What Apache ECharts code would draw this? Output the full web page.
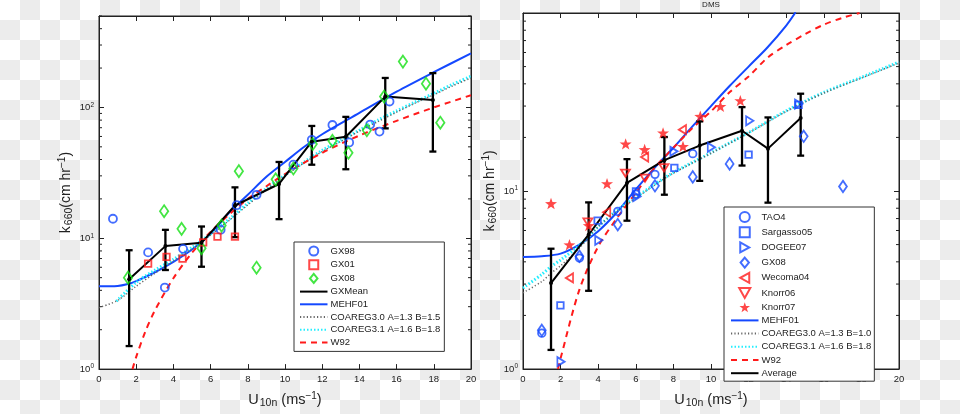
<!DOCTYPE html>
<html><head><meta charset="utf-8">
<script src="https://cdn.jsdelivr.net/npm/echarts@6/dist/echarts.min.js"></script>
<style>
html,body{margin:0;padding:0;width:960px;height:414px;overflow:hidden;
background: repeating-conic-gradient(#ececec 0% 25%, #ffffff 0% 50%) 0 0/40px 40px;}
#c{width:960px;height:414px;}
</style></head><body><div id="c"></div>
<script>
// ---------- Left panel (CO2 / GasEx) ----------
const gx98 = [[0.75,14.1],[2.64,7.8],[3.54,4.2],[4.52,8.3],[6.54,11.6],[7.4,17.9],[8.47,21.5],[10.45,36.5],[11.44,56.6],[12.55,73.4],[13.45,54],[14.58,74],[15.08,65.4],[15.62,111]];
const gx01 = [[2.64,6.4],[3.63,7.2],[4.49,7.0],[5.6,9.3],[6.37,10.3],[7.31,10.3]];
const gx08L = [[1.56,5.0],[3.5,16.1],[4.44,11.8],[5.51,8.4],[6.59,12.5],[7.52,32.6],[8.47,5.96],[9.5,28.2],[10.45,34.1],[11.49,52.5],[12.55,55.6],[13.41,45],[14.4,66.9],[15.33,121],[16.34,224],[17.58,152],[18.35,76.4]];
const gxMeanU = [1.62,3.57,5.51,7.31,9.68,11.44,13.27,15.39,17.95];
const gxMean = [4.87,8.71,9.23,17.8,26,54.7,59.7,121,114];
const gxLow = [1.5,5.72,6.06,10.2,14.0,36.5,33.7,69.2,46];
const gxHigh = [8.1,11.6,12.3,24.5,38.3,72.2,84.7,168,183];
const mehfL = [[0,4.29],[1,4.32],[1.5,4.45],[2,4.7],[3,5.5],[4,6.6],[5,8.2],[6,10.8],[7,15.7],[8,21.5],[9,29.5],[10,38.3],[11,49.6],[12,62.4],[14,90.8],[16,132],[18,186],[20,259]];
const coare30L = [[0,2.95],[1,3.35],[2,4.3],[3,5.4],[4,6.7],[5,8.3],[6,10.6],[7,13.7],[8,18],[9,23.5],[10,30],[11,37.5],[12,46],[13,55],[14,66],[15,78],[16,92],[17,108],[18,125],[19,146],[20,168]];
const coare31L = [[0.94,3.3],[2,4.6],[3,5.7],[4,6.9],[5,8.5],[6,10.8],[7,14],[8,18.5],[9,24],[10,30.5],[11,38],[12,47],[13,56],[14,67],[15,80],[16,94],[17,110],[18,128],[19,150],[20,173]];
const w92L = [[1.8,1.0],[2,1.24],[2.5,1.95],[3,2.8],[4,4.95],[5,7.75],[6,11.2],[7,15.2],[8,20],[9,25],[10,31],[12,45],[14,61],[16,79],[18,100],[20,124]];

// ---------- Right panel (DMS) ----------
const tao4 = [[1.0,1.59],[3.0,4.2],[5.04,7.68],[6.0,9.6],[7.02,12.4],[9.03,16.2]];
const sargasso05 = [[1.99,2.28],[3.97,6.81],[6.01,9.95],[8.05,13.5],[12.0,16.0],[14.66,30.5]];
const dogee07 = [[2.02,1.1],[4.03,5.28],[6.06,9.3],[8.03,16.7],[10.02,17.6],[12.06,24.8],[14.66,30.8]];
const gx08R = [[1.0,1.65],[3.0,4.3],[5.04,6.47],[7.02,10.7],[9.03,12.0],[10.99,14.2],[14.93,20.3],[17.02,10.6]];
const wecoma04 = [[2.47,3.25],[4.45,7.6],[6.47,15.5],[8.48,22.1]];
const knorr06 = [[3.45,6.7],[5.45,12.6],[6.49,11.8],[7.5,13.5]];
const knorr07 = [[1.49,8.5],[2.47,4.99],[3.5,6.4],[4.47,11.0],[5.46,18.4],[6.47,17.1],[7.45,21.2],[8.51,17.8],[9.43,26.3],[10.5,29.9],[11.56,32.2]];
const avgU = [1.49,3.49,5.53,7.52,9.4,11.65,13.03,14.77];
const avgK = [3.04,5.68,11.1,14.9,18.0,21.8,17.3,25.7];
const avgLow = [1.28,2.75,6.81,9.53,11.4,13.9,8.6,15.8];
const avgHigh = [4.74,8.63,15.1,20.1,24.6,29.6,25.9,35.2];
const mehfR = [[0,4.26],[1,4.3],[2,4.45],[3,5.0],[4,5.95],[5,7.6],[6,10.2],[7,13.5],[8,17.5],[9,23],[10,30],[11,39],[12,50],[13,64],[14,85],[14.5,101]];
const coare30R = [[0,2.68],[1,3.1],[1.5,3.46],[2,3.8],[3,4.78],[4,6.3],[5,7.7],[6,9.1],[7,10.8],[8,12.6],[10,16.3],[12,21.2],[14,28],[16,35.5],[18,43.1],[20,52.4]];
const coare31R = [[0,2.85],[1,3.4],[1.5,3.77],[2,4.1],[3,4.95],[4,6.3],[5,7.8],[6,9.2],[7,10.9],[8,12.7],[10,16.4],[12,21.3],[14,28.2],[16,35.8],[18,43.5],[20,53]];
const w92R = [[1.86,1.0],[2,1.15],[3,2.79],[4,4.88],[5,7.05],[6,9.75],[7,13.5],[8,17.5],[9,22.5],[10,28],[11,36],[12,44],[13,56],[14,66],[15,76],[16,86],[17,94],[17.9,100]];

const minorL = [2,3,4,5,6,7,8,9,20,30,40,50,60,70,80,90,200,300,400,500];
const minorR = [2,3,4,5,6,7,8,9,20,30,40,50,60,70,80,90];

const legendLeft = ['GX98', 'GX01', 'GX08', 'GXMean', 'MEHF01', 'COAREG3.0 A=1.3 B=1.5', 'COAREG3.1 A=1.6 B=1.8', 'W92'];
const legendRight = ['TAO4', 'Sargasso05', 'DOGEE07', 'GX08 ', 'Wecoma04', 'Knorr06', 'Knorr07', 'MEHF01 ', 'COAREG3.0 A=1.3 B=1.0', 'COAREG3.1 A=1.6 B=1.8 ', 'W92 ', 'Average'];
const lineNames = ['GXMean', 'MEHF01', 'COAREG3.0 A=1.3 B=1.5', 'COAREG3.1 A=1.6 B=1.8', 'W92', 'MEHF01 ', 'COAREG3.0 A=1.3 B=1.0', 'COAREG3.1 A=1.6 B=1.8 ', 'W92 ', 'Average'];

const FONT = 'Liberation Sans, Arial, Helvetica, sans-serif';
const BLUE = '#1448ff', RED = '#ff1a1a', GREEN = '#14e014', BLACK = '#000';
const SYM = {
  star: 'path://M0,-10L2.35,-3.24L9.51,-3.09L3.8,1.24L5.88,8.09L0,4L-5.88,8.09L-3.8,1.24L-9.51,-3.09L-2.35,-3.24Z',
  square: 'path://M0,0L10,0L10,10L0,10Z',
  diamond: 'path://M5,0L10,6L5,12L0,6Z',
  triRight: 'path://M0,0L9,5L0,10Z',
  triLeft: 'path://M9,0L0,5L9,10Z',
  triDown: 'path://M0,0L10,0L5,9Z'
};

const chart = echarts.init(document.getElementById('c'));

function xAxisPair(gi) {
  const base = {gridIndex: gi, type: 'value', min: 0, max: 20, interval: 2,
    axisLine: {show: true, onZero: false, lineStyle: {color: '#222', width: 1}},
    splitLine: {show: false}};
  return [
    Object.assign({}, base, {position: 'bottom',
      axisTick: {inside: true, length: 5, lineStyle: {color: '#222'}},
      axisLabel: {fontSize: 9.5, color: '#222', margin: 5, fontFamily: FONT},
      name: '{m|U}{sb|10n}{m| (ms}{sp|−1}{m|)}', nameLocation: 'middle', nameGap: 15,
      nameTextStyle: {fontFamily: FONT, color: '#222', rich: {
        m: {fontSize: 14.5, fontFamily: FONT, color: '#222', lineHeight: 18},
        sb: {fontSize: 10.5, fontFamily: FONT, color: '#222', verticalAlign: 'bottom', lineHeight: 10, padding: [9,0,0,1]},
        sp: {fontSize: 10, fontFamily: FONT, color: '#222', verticalAlign: 'top', lineHeight: 10, padding: [0,0,8,0]}}}}),
    Object.assign({}, base, {position: 'top',
      axisTick: {inside: true, length: 5, lineStyle: {color: '#222'}},
      axisLabel: {show: false}})
  ];
}
function yAxisPair(gi, max) {
  const base = {gridIndex: gi, type: 'log', logBase: 10, min: 1, max: max,
    axisLine: {show: true, onZero: false, lineStyle: {color: '#222', width: 1}},
    splitLine: {show: false}, minorTick: {show: false}};
  return [
    Object.assign({}, base, {position: 'left',
      axisTick: {inside: true, length: 5, lineStyle: {color: '#222'}},
      axisLabel: {margin: 5, color: '#222', fontSize: 9.5, fontFamily: FONT, showMaxLabel: false,
        formatter: function (v) {
          const e = Math.round(Math.log10(v));
          if (Math.abs(Math.pow(10, e) - v) > 1e-6 * v) return '';
          return '{b|10}{e|' + e + '}';
        },
        rich: {b: {fontSize: 9.5, fontFamily: FONT, color: '#222', lineHeight: 12},
               e: {fontSize: 6.5, fontFamily: FONT, color: '#222', verticalAlign: 'top', lineHeight: 7, padding: [0,0,5,0]}}},
      name: '{m|k}{sb|660}{m|(cm hr}{sp|−1}{m|)}', nameLocation: 'middle', nameGap: 24, nameRotate: 90,
      nameTextStyle: {fontFamily: FONT, color: '#222', rich: {
        m: {fontSize: 14, fontFamily: FONT, color: '#222', lineHeight: 18},
        sb: {fontSize: 10.5, fontFamily: FONT, color: '#222', verticalAlign: 'bottom', lineHeight: 10, padding: [9,0,0,1]},
        sp: {fontSize: 10, fontFamily: FONT, color: '#222', verticalAlign: 'top', lineHeight: 10, padding: [0,0,8,0]}}}}),
    Object.assign({}, base, {position: 'right',
      axisTick: {inside: true, length: 5, lineStyle: {color: '#222'}},
      axisLabel: {show: false}})
  ];
}

function minorTickSeries(xi, yi, vals) {
  return {type: 'custom', xAxisIndex: xi, yAxisIndex: yi, silent: true, clip: false, z: 5,
    data: vals.map(v => [0, v]),
    renderItem: function (params, api) {
      const cs = params.coordSys;
      const y = api.coord([0, api.value(1)])[1];
      const st = {stroke: '#222', lineWidth: 1};
      return {type: 'group', children: [
        {type: 'line', shape: {x1: cs.x, y1: y, x2: cs.x + 3, y2: y}, style: st},
        {type: 'line', shape: {x1: cs.x + cs.width - 3, y1: y, x2: cs.x + cs.width, y2: y}, style: st}
      ]};
    }};
}
function errorBarSeries(xi, yi, us, lo, hi) {
  return {type: 'custom', xAxisIndex: xi, yAxisIndex: yi, silent: true, z: 3,
    data: us.map((u, i) => [u, lo[i], hi[i]]),
    encode: {x: 0, y: [1, 2]},
    renderItem: function (params, api) {
      const a = api.coord([api.value(0), api.value(1)]);
      const b = api.coord([api.value(0), api.value(2)]);
      const st = {stroke: BLACK, lineWidth: 2.3};
      const w = 3.5;
      return {type: 'group', children: [
        {type: 'line', shape: {x1: a[0], y1: a[1], x2: b[0], y2: b[1]}, style: st},
        {type: 'line', shape: {x1: a[0] - w, y1: a[1], x2: a[0] + w, y2: a[1]}, style: st},
        {type: 'line', shape: {x1: b[0] - w, y1: b[1], x2: b[0] + w, y2: b[1]}, style: st}
      ]};
    }};
}
function scatter(name, xi, yi, data, symbol, size, color, filled) {
  return {name: name, type: 'scatter', xAxisIndex: xi, yAxisIndex: yi, data: data,
    symbol: symbol, symbolSize: size, symbolKeepAspect: true, z: 4,
    itemStyle: filled ? {color: color} : {color: 'rgba(255,255,255,0)', borderColor: color, borderWidth: 1.8}};
}
function curve(name, xi, yi, data, color, width, type, z) {
  return {name: name, type: 'line', xAxisIndex: xi, yAxisIndex: yi, data: data,
    symbol: 'none', smooth: 0.3, clip: true, z: z || 2,
    itemStyle: {color: color},
    lineStyle: {color: color, width: width, type: type}};
}
function legendData(names) {
  return names.map(n => lineNames.indexOf(n) >= 0 ? {name: n, itemStyle: {opacity: 0}} : {name: n});
}

const series = [
  // left
  curve('MEHF01', 0, 0, mehfL, BLUE, 2, 'solid'),
  curve('COAREG3.1 A=1.6 B=1.8', 0, 0, coare31L, '#22eeff', 3, [1.5, 2]),
  curve('COAREG3.0 A=1.3 B=1.5', 0, 0, coare30L, '#666', 1.5, [1.2, 2.2]),
  curve('W92', 0, 0, w92L, RED, 2, [6, 5]),
  scatter('GX98', 0, 0, gx98, 'circle', 8, BLUE, false),
  scatter('GX01', 0, 0, gx01, SYM.square, [6.5, 6.5], RED, false),
  scatter('GX08', 0, 0, gx08L, SYM.diamond, [10, 12], GREEN, false),
  errorBarSeries(0, 0, gxMeanU, gxLow, gxHigh),
  {name: 'GXMean', type: 'line', xAxisIndex: 0, yAxisIndex: 0, z: 4,
   data: gxMeanU.map((u, i) => [u, gxMean[i]]),
   symbol: 'circle', symbolSize: 4, itemStyle: {color: BLACK},
   lineStyle: {color: BLACK, width: 2}},
  minorTickSeries(0, 0, minorL),
  // right
  curve('MEHF01 ', 2, 2, mehfR, BLUE, 2, 'solid'),
  curve('COAREG3.1 A=1.6 B=1.8 ', 2, 2, coare31R, '#22eeff', 3, [1.5, 2]),
  curve('COAREG3.0 A=1.3 B=1.0', 2, 2, coare30R, '#666', 1.5, [1.2, 2.2]),
  curve('W92 ', 2, 2, w92R, RED, 2, [6, 5]),
  scatter('TAO4', 2, 2, tao4, 'circle', 7.5, BLUE, false),
  scatter('Sargasso05', 2, 2, sargasso05, SYM.square, [6.5, 6.5], BLUE, false),
  scatter('DOGEE07', 2, 2, dogee07, SYM.triRight, [8, 9], BLUE, false),
  scatter('GX08 ', 2, 2, gx08R, SYM.diamond, [9.5, 11.5], BLUE, false),
  scatter('Wecoma04', 2, 2, wecoma04, SYM.triLeft, [8, 9], RED, false),
  scatter('Knorr06', 2, 2, knorr06, SYM.triDown, [9, 8], RED, false),
  scatter('Knorr07', 2, 2, knorr07, SYM.star, 12, RED, true),
  errorBarSeries(2, 2, avgU, avgLow, avgHigh),
  {name: 'Average', type: 'line', xAxisIndex: 2, yAxisIndex: 2, z: 4,
   data: avgU.map((u, i) => [u, avgK[i]]),
   symbol: 'circle', symbolSize: 4, itemStyle: {color: BLACK},
   lineStyle: {color: BLACK, width: 2}},
  minorTickSeries(2, 2, minorR)
];

const legendBase = {orient: 'vertical', itemWidth: 27.5, itemHeight: 9, symbolKeepAspect: true,
  backgroundColor: '#fff', borderColor: '#333', borderWidth: 1, borderRadius: 0,
  selectedMode: false, formatter: n => n.trim(),
  textStyle: {fontSize: 9.5, fontFamily: FONT, color: '#222', padding: [0,0,0,-2]}};

const option = {
  animation: false,
  grid: [
    {left: 99, top: 16, width: 372, height: 360, show: true, backgroundColor: '#fff', borderColor: '#222', borderWidth: 1},
    {left: 523, top: 13, width: 376, height: 356, show: true, backgroundColor: '#fff', borderColor: '#222', borderWidth: 1}
  ],
  xAxis: [].concat(xAxisPair(0), xAxisPair(1)),
  yAxis: [].concat(yAxisPair(0, 500), yAxisPair(1, 100)),
  legend: [
    Object.assign({}, legendBase, {left: 294, top: 242, itemGap: 2.7, padding: [3.5, 4, 4, 5],
      data: legendData(legendLeft)}),
    Object.assign({}, legendBase, {left: 724, top: 207, itemHeight: 10, itemGap: 3.2, padding: [4, 3, 3, 6],
      data: legendData(legendRight)})
  ],
  graphic: [{type: 'text', x: 711, y: 5, style: {text: 'DMS', align: 'center', verticalAlign: 'middle', fontSize: 8, fontFamily: FONT, fill: '#222'}}],
  series: series
};
chart.setOption(option);
</script></body></html>
